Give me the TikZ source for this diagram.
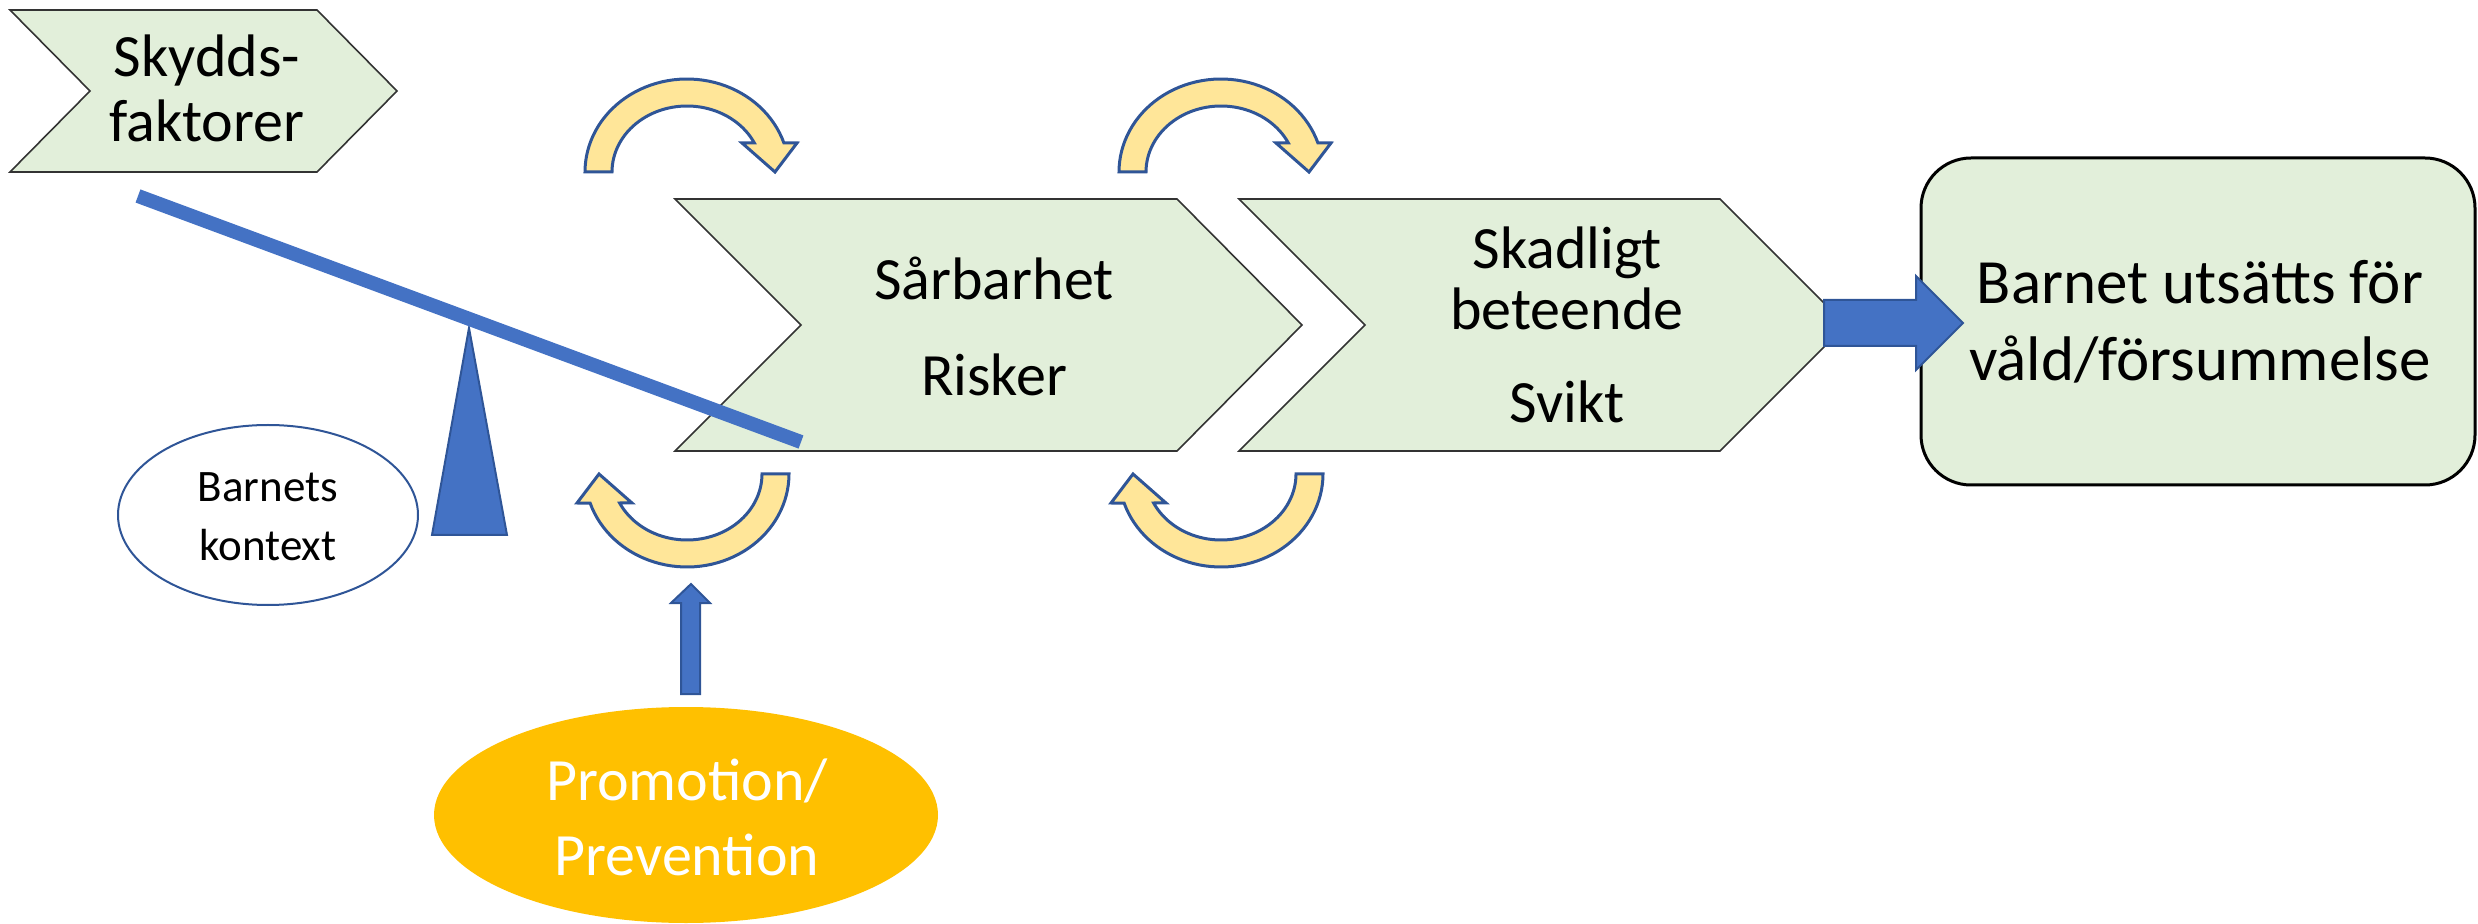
\documentclass[tikz,border=0pt]{standalone}
\usepackage{fontspec}
\setmainfont{Carlito}
\definecolor{grn}{HTML}{E2EFDA}
\definecolor{bluef}{HTML}{4472C4}
\definecolor{blued}{HTML}{2F5597}
\definecolor{yel}{HTML}{FFE699}
\definecolor{org}{HTML}{FFC000}
\tikzset{
  chev/.style={fill=grn, draw=black!80, line width=0.8pt, line join=miter},
  bluesh/.style={fill=bluef, draw=blued, line width=1pt, line join=miter},
  cyc/.style={fill=yel, draw=blued, line width=1.5pt, line join=miter},
  lbl/.style={anchor=base, inner sep=0pt, font=\fontsize{30}{36}\selectfont},
  lblbig/.style={lbl, font=\fontsize{31.5}{37}\selectfont},
  lblsmall/.style={lbl, font=\fontsize{22.5}{27}\selectfont},
  cycarrow/.pic={
    \path[cyc] plot[domain=180:18.2, samples=50] ({102*cos(\x)},{-93*sin(\x)})
      -- (110,-29) -- (88,0) -- (55,-29) -- (67,-29)
      -- plot[domain=26.1:180, samples=50] ({75*cos(\x)},{-66*sin(\x)}) -- cycle;
  }
}
\begin{document}
\begin{tikzpicture}[x=0.5pt, y=-0.5pt]
\useasboundingbox (0,0) rectangle (2478,924);

% chevrons
\path[chev] (10,10) -- (317,10) -- (397,91) -- (317,172) -- (10,172) -- (90,91) -- cycle;
\path[chev] (675,199) -- (1177,199) -- (1302,325) -- (1177,451) -- (675,451) -- (801,325) -- cycle;
\path[chev] (1239,199) -- (1720,199) -- (1846,325) -- (1720,451) -- (1239,451) -- (1365,325) -- cycle;

% result box
\draw[fill=grn, draw=black, line width=1.5pt, rounded corners=25pt] (1921,158) rectangle (2475,485);

% seesaw
\path[bluesh] (469,328) -- (507,535) -- (432,535) -- cycle;
\draw[bluef, line width=7pt] (138,196) -- (801,442);

% context ellipse
\draw[blued, fill=white, line width=1pt] (268,515) ellipse [x radius=75pt, y radius=45pt];

% promotion ellipse
\fill[org] (686,815) ellipse [x radius=126pt, y radius=54pt];

% block arrows
\path[bluesh] (1824,300) -- (1916,300) -- (1916,276) -- (1963,323) -- (1916,370) -- (1916,346) -- (1824,346) -- cycle;
\path[bluesh] (681,694) -- (681,603) -- (671,603) -- (691,584) -- (710,603) -- (700,603) -- (700,694) -- cycle;

% cycle arrows
\pic at (687,172) {cycarrow};
\pic at (1221,172) {cycarrow};
\pic[rotate=180] at (687,474) {cycarrow};
\pic[rotate=180] at (1221,474) {cycarrow};

% texts
\node[lbl] (t1a) at (207,77) {Skydds-};
\node[lbl] (t1b) at (207,142) {faktorer};
\node[lbl] (t2a) at (994,300) {Sårbarhet};
\node[lbl] (t2b) at (994,396) {Risker};
\node[lbl] (t3a) at (1567,269) {Skadligt};
\node[lbl] (t3b) at (1567,330) {beteende};
\node[lbl] (t3c) at (1567,423) {Svikt};
\node[lblbig] (t4a) at (2200,304) {Barnet utsätts för};
\node[lblbig] (t4b) at (2200,381) {våld/försummelse};
\node[lblsmall] (t5a) at (268,502) {Barnets};
\node[lblsmall] (t5b) at (268,560) {kontext};
\node[lbl, text=white] (t6a) at (687,800) {Promotion/};
\node[lbl, text=white] (t6b) at (687,875) {Prevention};
\end{tikzpicture}
\end{document}
